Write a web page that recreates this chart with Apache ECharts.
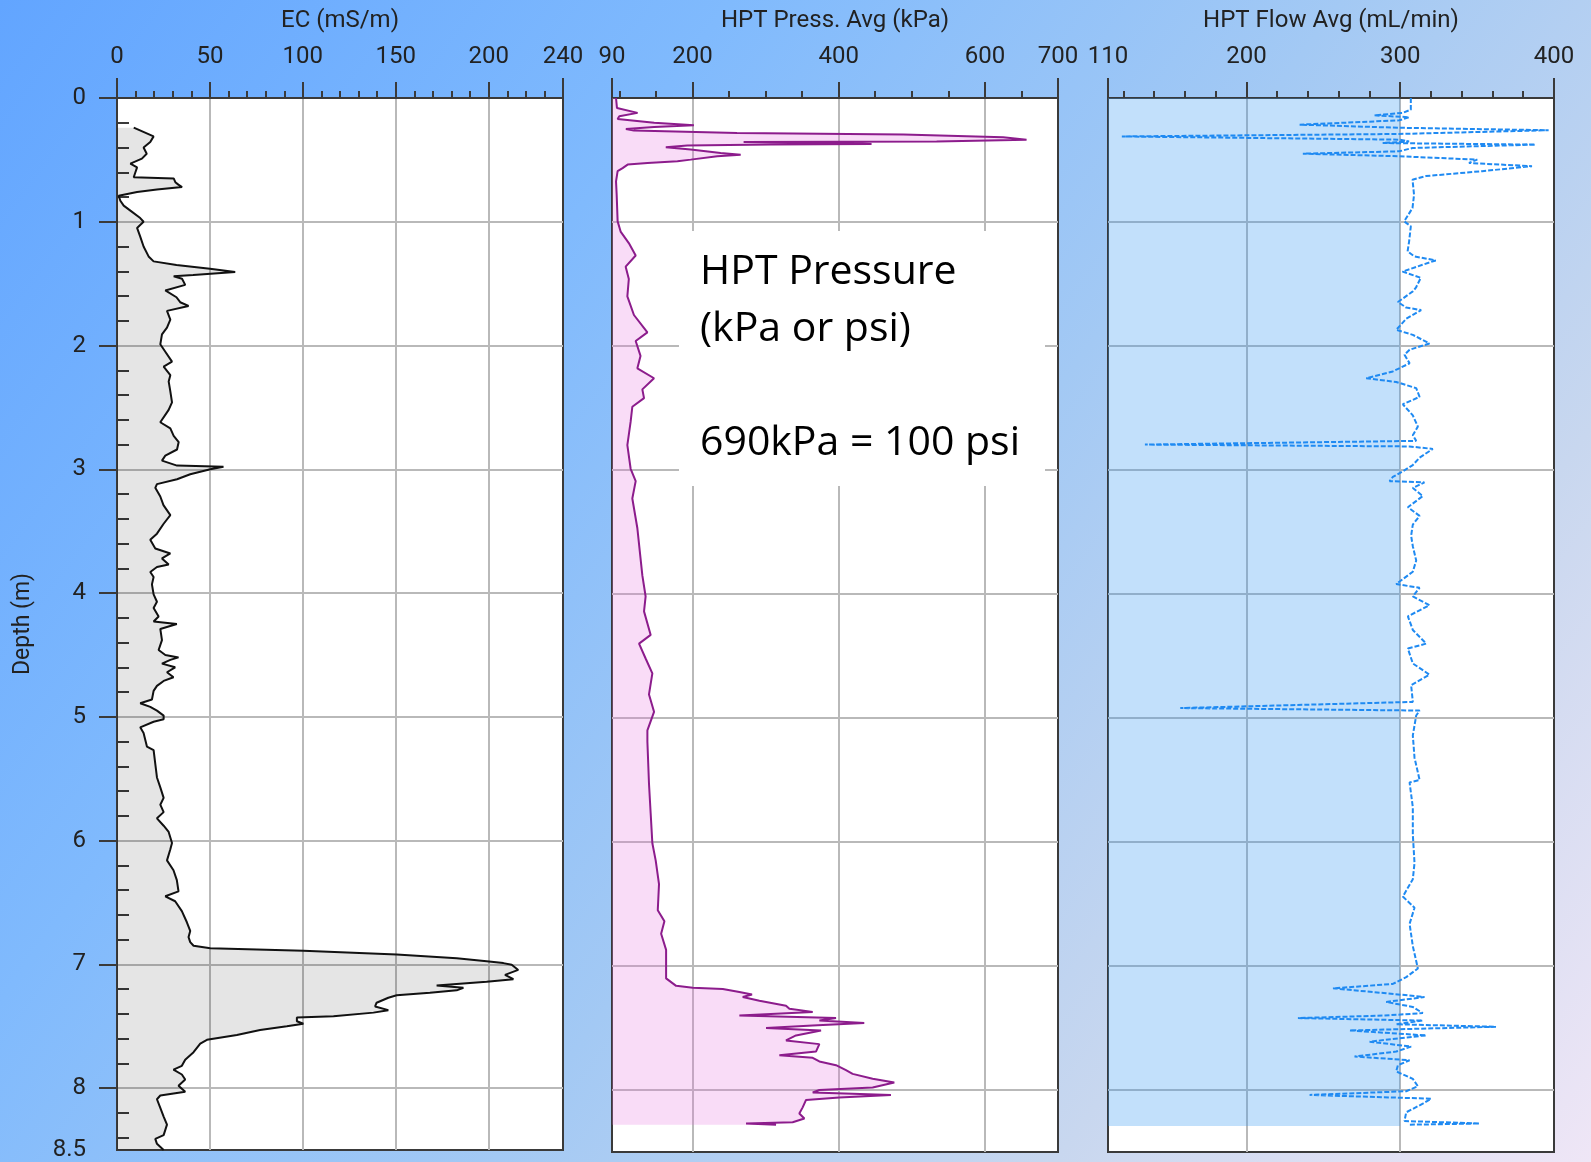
<!DOCTYPE html>
<html>
<head>
<meta charset="utf-8">
<title>EC and HPT log</title>
<script src="https://cdn.jsdelivr.net/npm/echarts@6/dist/echarts.min.js"></script>
<style>
  html, body { margin: 0; padding: 0; }
  #chart { width: 1591px; height: 1162px; }
</style>
</head>
<body>
<div id="chart"></div>
<script>
// depth axis (m), shared by the three tracks
var depthLabels = [0, 1, 2, 3, 4, 5, 6, 7, 8, 8.5];
var depthMajorTicks = [0, 1, 2, 3, 4, 5, 6, 7, 8];
var depthMinorTicks = [0.2, 0.4, 0.6, 0.8, 1.2, 1.4, 1.6, 1.8, 2.2, 2.4, 2.6, 2.8,
  3.2, 3.4, 3.6, 3.8, 4.2, 4.4, 4.6, 4.8, 5.2, 5.4, 5.6, 5.8, 6.2, 6.4, 6.6, 6.8,
  7.2, 7.4, 7.6, 7.8, 8.2, 8.4];

// EC (mS/m)
var ecLabels = [0, 50, 100, 150, 200, 240];
var ecMajorTicks = [50, 100, 150, 200];
var ecMinorTicks = [10, 20, 30, 40, 60, 70, 80, 90, 110, 120, 130, 140, 160, 170, 180, 190, 210, 220, 230];
var ecDepth = [0.24, 0.31, 0.355, 0.40, 0.45, 0.49, 0.53, 0.56, 0.60, 0.64, 0.65, 0.68, 0.70, 0.72, 0.74, 0.76,
  0.79, 0.83, 0.87, 0.91, 0.97, 1.00, 1.05, 1.12, 1.20, 1.28, 1.32, 1.35, 1.38, 1.405, 1.43, 1.44, 1.46, 1.51,
  1.555, 1.61, 1.65, 1.68, 1.72, 1.79, 1.855, 1.91, 1.99, 2.05, 2.13, 2.17, 2.24, 2.29, 2.37, 2.46, 2.52, 2.62,
  2.67, 2.73, 2.78, 2.84, 2.89, 2.93, 2.97, 2.98, 3.00, 3.04, 3.08, 3.12, 3.15, 3.22, 3.29, 3.37, 3.44, 3.52,
  3.57, 3.64, 3.68, 3.72, 3.77, 3.79, 3.83, 3.87, 3.93, 4.01, 4.07, 4.12, 4.19, 4.23, 4.25, 4.29, 4.38, 4.46,
  4.50, 4.52, 4.54, 4.57, 4.60, 4.64, 4.68, 4.71, 4.75, 4.79, 4.86, 4.89, 4.92, 4.95, 4.99, 5.02, 5.04, 5.085,
  5.13, 5.24, 5.27, 5.38, 5.49, 5.57, 5.655, 5.71, 5.77, 5.82, 5.88, 5.93, 6.02, 6.07, 6.16, 6.24, 6.32, 6.41,
  6.45, 6.49, 6.57, 6.66, 6.73, 6.78, 6.82, 6.85, 6.87, 6.89, 6.92, 6.95, 6.975, 6.99, 7.003, 7.045, 7.085,
  7.12, 7.14, 7.17, 7.19, 7.21, 7.23, 7.25, 7.27, 7.31, 7.34, 7.37, 7.39, 7.42, 7.43, 7.46, 7.48, 7.50, 7.53,
  7.57, 7.61, 7.64, 7.71, 7.77, 7.82, 7.85, 7.89, 7.93, 7.98, 8.03, 8.06, 8.09, 8.16, 8.23, 8.295, 8.38, 8.41,
  8.45, 8.50];
var ecValue = [9, 19.7, 17.9, 14.3, 16, 13.4, 7.2, 10.8, 9.9, 9, 30.5, 31.4, 33, 35, 21.5, 10.8,
  0.9, 1.8, 3.6, 7.2, 12.5, 14.3, 10.8, 12.5, 14.3, 17, 19.7, 32, 50, 63.6, 41, 30.5, 35, 36.7,
  26, 32, 34, 38.5, 26.9, 28.7, 26.9, 24.2, 23.3, 26, 29.6, 25.1, 28.7, 27.8, 28.7, 29.6, 27.8, 23.3,
  28.7, 30.5, 33.2, 32.3, 26, 24.2, 32.3, 57.3, 50.2, 39.4, 32.3, 21.5, 20.6, 23.3, 25, 28.7, 25.1, 21.5,
  17.9, 20.6, 28.7, 24.2, 27.8, 21.5, 17.9, 19.7, 18.8, 19.7, 21.5, 19.7, 22.4, 19.7, 32.2, 23.3, 24.2, 22.4,
  26, 33.1, 28.7, 24.2, 31.3, 26.9, 30.4, 25.1, 21.5, 19.7, 18.8, 12.5, 17.9, 21.5, 25.1, 25.1, 19.7, 12.5,
  14.3, 16.1, 19.7, 20.6, 21.5, 23.3, 25.1, 23.3, 25.1, 21.5, 25.1, 27.8, 29.6, 28.7, 26.9, 30.4, 32.2, 33.1,
  26, 31.3, 34.9, 37.6, 39.4, 38.5, 39.4, 41.2, 50.2, 100.3, 150.5, 182.8, 198.9, 207.9, 212.4, 215.9, 208.8,
  213.3, 198.9, 172, 186.4, 182.8, 168.4, 150.5, 146, 139.7, 138.9, 146, 138, 116.5, 96.8, 96.8, 100.3, 91.4, 77,
  64.5, 48.4, 44.8, 41.2, 36.7, 34.9, 30.4, 34.9, 36.7, 33.1, 36.7, 23.3, 21.5, 23.3, 25.1, 26.9, 25.1, 20.6,
  21.5, 25.1];

// HPT pressure (kPa)
var pressLabels = [90, 200, 400, 600, 700];
var pressMajorTicks = [200, 400, 600];
var pressMinorTicks = [100, 150, 250, 300, 350, 450, 500, 550, 650];
var pressDepth = [0, 0.08, 0.12, 0.147, 0.17, 0.20, 0.22, 0.234, 0.25, 0.263, 0.282, 0.295, 0.317, 0.336, 0.35,
  0.355, 0.363, 0.37, 0.376, 0.384, 0.397, 0.416, 0.443, 0.457, 0.47, 0.497, 0.51, 0.524, 0.537, 0.565, 0.59,
  0.672, 0.78, 0.995, 1.077, 1.17, 1.27, 1.36, 1.46, 1.60, 1.75, 1.89, 1.96, 2.08, 2.18, 2.26, 2.35, 2.42, 2.49,
  2.61, 2.80, 2.99, 3.09, 3.23, 3.47, 3.71, 3.85, 4.02, 4.14, 4.33, 4.40, 4.52, 4.64, 4.81, 4.95, 5.10, 5.19,
  5.53, 5.77, 6.01, 6.15, 6.34, 6.55, 6.64, 6.74, 6.87, 7.01, 7.10, 7.16, 7.175, 7.185, 7.21, 7.23, 7.25, 7.28,
  7.32, 7.345, 7.37, 7.40, 7.42, 7.44, 7.46, 7.48, 7.50, 7.52, 7.56, 7.60, 7.63, 7.66, 7.69, 7.72, 7.74, 7.77,
  7.80, 7.84, 7.87, 7.91, 7.94, 7.98, 8.00, 8.02, 8.03, 8.04, 8.06, 8.08, 8.14, 8.19, 8.23, 8.26, 8.27, 8.28];
var pressValue = [95.5, 96.8, 125, 100, 97.7, 147.7, 202, 147.7, 109, 120, 261, 488.6, 625, 657, 534,
  270, 397.7, 445, 307, 193, 163.6, 197.7, 238.6, 266, 234, 197.7, 179.5, 138.6, 111.4, 104.5, 97.7,
  95.5, 96.4, 97.7, 101.8, 113, 122.4, 108.7, 113, 111, 120, 138.4, 122.4, 129, 124.7, 147.5, 131.5, 133.8, 117.8,
  115.5, 111, 115.5, 122.4, 117.8, 124.7, 129, 131.5, 136, 133.8, 142.9, 127, 136, 145.2, 140.6, 147.5, 138.4, 138.4,
  140.6, 142.9, 145.2, 149.8, 154.3, 152.6, 161.7, 157.2, 164, 164, 164, 177.7, 200.5, 241.5, 264.2, 281.5, 268.8, 291.6,
  328, 332.6, 364.5, 264.2, 396.4, 373.6, 435, 364.5, 300.7, 375.9, 341.7, 328, 373.6, 371.3, 369, 318.9, 364.5, 373.6,
  396.4, 410, 419.1, 446.5, 476.1, 446.5, 373.6, 364.5, 419.1, 471.5, 400.9, 355.4, 350.8, 346.2, 353.1, 337.1, 273.3, 314.4];

// HPT flow (mL/min)
var flowLabels = [110, 200, 300, 400];
var flowMajorTicks = [200, 300];
var flowMinorTicks = [120, 140, 160, 180, 220, 240, 260, 280, 320, 340, 360, 380];
var flowDepth = [0, 0.094, 0.12, 0.14, 0.155, 0.18, 0.215, 0.24, 0.26, 0.29, 0.31, 0.336, 0.35, 0.363, 0.376,
  0.403, 0.43, 0.449, 0.47, 0.497, 0.524, 0.55, 0.59, 0.63, 0.659, 0.78, 0.887, 0.995, 1.008, 1.035, 1.156,
  1.237, 1.277, 1.31, 1.345, 1.40, 1.45, 1.53, 1.56, 1.645, 1.69, 1.71, 1.78, 1.87, 1.91, 1.98, 2.03, 2.07,
  2.14, 2.205, 2.26, 2.29, 2.34, 2.41, 2.47, 2.56, 2.65, 2.72, 2.765, 2.795, 2.81, 2.83, 2.90, 2.96, 3.01,
  3.056, 3.09, 3.10, 3.145, 3.21, 3.30, 3.37, 3.44, 3.53, 3.615, 3.73, 3.82, 3.92, 3.95, 4.02, 4.09, 4.18,
  4.29, 4.40, 4.44, 4.56, 4.65, 4.735, 4.87, 4.92, 4.94, 4.98, 5.14, 5.32, 5.50, 5.52, 5.72, 5.94, 6.17, 6.30,
  6.44, 6.53, 6.66, 6.84, 7.02, 7.09, 7.145, 7.18, 7.22, 7.25, 7.29, 7.33, 7.38, 7.40, 7.42, 7.44, 7.47, 7.49,
  7.52, 7.56, 7.61, 7.65, 7.69, 7.73, 7.76, 7.80, 7.85, 7.91, 7.97, 8.01, 8.04, 8.07, 8.11, 8.18, 8.25, 8.27, 8.28];
var flowValue = [306.9, 306.9, 301.5, 283.2, 305.8, 299.4, 234.6, 299.4, 396.5, 299.4, 119, 299.4, 305.8, 288.6, 387.9,
  308, 299.4, 236.7, 299.4, 350.1, 344.7, 385.7, 353.3, 316.6, 308, 309, 308, 302.6, 301.5, 306.9, 305.8,
  304.8, 309.1, 323.1, 314.5, 301.5, 313.4, 310.2, 308.2, 298.5, 303.9, 313.6, 303.9, 297.4, 308.2, 319, 306.1, 302.8,
  306.1, 295.2, 277.9, 297.4, 310.4, 312.6, 301.7, 308.2, 311.5, 308.2, 310.4, 134, 306, 321.2, 312.6, 308.2, 301.7,
  295.2, 293.1, 315.8, 308.2, 314.7, 305, 312.6, 308.2, 307.1, 308.2, 310.4, 308.2, 297.4, 312.6, 308.2, 319, 305,
  308.2, 316.9, 305, 308.2, 319, 307.1, 308.2, 157, 312.6, 310.4, 308.2, 309.3, 312.6, 306.1, 308.2, 308.2, 309.3, 308.2,
  301.7, 309.3, 306.1, 308.2, 311.5, 303.9, 295.2, 256.3, 290.9, 315.8, 290.9, 308.2, 314.7, 288.7, 233.5, 314.7, 297.4, 362.3,
  267.1, 316.9, 280.1, 307.1, 297.4, 270.3, 306.1, 298.5, 297.4, 308.2, 311.5, 303.9, 241.1, 320.1, 314.7, 303.9, 302.8, 351.5, 306];

// shaded band behind the flow trace: up to 300 mL/min, down to end of log
var flowBand = [[300, 0], [300, 8.29]];

function zip(values, depths) {
  return values.map(function (v, i) { return [v, depths[i]]; });
}

var axisFont = 'Roboto, "Liberation Sans", sans-serif';
var frame = '#3a3a3a';

function topAxes(grid, min, max, labels, majors, minors, title) {
  var base = { gridIndex: grid, type: 'value', position: 'top', min: min, max: max };
  return [
    Object.assign({}, base, {
      name: title, nameLocation: 'middle', nameGap: 65,
      nameTextStyle: { fontFamily: axisFont, fontSize: 24, color: '#222' },
      axisLine: { show: true, lineStyle: { color: frame, width: 2 } },
      axisTick: { show: true, customValues: majors, length: 16, lineStyle: { color: frame, width: 2 } },
      axisLabel: { show: true, customValues: labels, margin: 29, fontFamily: axisFont, fontSize: 24, color: '#222' },
      splitLine: { show: true, lineStyle: { color: '#b9b9b9', width: 2 } }
    }),
    Object.assign({}, base, {
      axisLine: { show: false },
      axisTick: { show: true, customValues: minors, length: 7, lineStyle: { color: frame, width: 2 } },
      axisLabel: { show: false }, splitLine: { show: false }
    }),
    Object.assign({}, base, {
      axisLine: { show: false },
      axisTick: { show: true, customValues: [min, max], length: 20, lineStyle: { color: frame, width: 2 } },
      axisLabel: { show: false }, splitLine: { show: false }
    })
  ];
}

function depthAxis(grid, extra) {
  return Object.assign({
    gridIndex: grid, type: 'value', inverse: true, min: 0, max: 8.5, interval: 1,
    axisLine: { show: false }, axisTick: { show: false, customValues: depthMajorTicks },
    axisLabel: { show: false },
    splitLine: { show: true, lineStyle: { color: '#b9b9b9', width: 2 } }
  }, extra);
}

// polygon between a trace and a vertical base line, mapped through the axes
function fillSeries(xIdx, yIdx, pts, baseX, color) {
  return {
    type: 'custom', xAxisIndex: xIdx, yAxisIndex: yIdx, silent: true, z: 1,
    data: [[baseX, pts[0][1]]],
    renderItem: function (params, api) {
      var poly = [api.coord([baseX, pts[0][1]])];
      pts.forEach(function (p) { poly.push(api.coord(p)); });
      poly.push(api.coord([baseX, pts[pts.length - 1][1]]));
      return { type: 'polygon', shape: { points: poly }, style: { fill: color } };
    }
  };
}

function traceSeries(xIdx, yIdx, pts, color, width, dash) {
  return {
    type: 'line', xAxisIndex: xIdx, yAxisIndex: yIdx, data: pts, z: 3,
    showSymbol: false, symbol: 'none', silent: true,
    lineStyle: { color: color, width: width, type: dash || 'solid' }
  };
}

var ecPts = zip(ecValue, ecDepth);
var pressPts = zip(pressValue, pressDepth);
var flowPts = zip(flowValue, flowDepth);

var chart = echarts.init(document.getElementById('chart'));

var gridBox = { show: true, top: 98, height: 1054, width: 446, backgroundColor: '#fff',
  borderColor: frame, borderWidth: 2 };

var option = {
  animation: false,
  backgroundColor: {
    type: 'linear', x: 0, y: 0, x2: 1, y2: 1,
    colorStops: [
      { offset: 0, color: '#62a5ff' },
      { offset: 0.3, color: '#80bafd' },
      { offset: 0.55, color: '#a3c9f4' },
      { offset: 0.78, color: '#c8d7ef' },
      { offset: 1, color: '#efe6f6' }
    ]
  },
  grid: [
    Object.assign({ left: 117 }, gridBox),
    Object.assign({ left: 612 }, gridBox),
    Object.assign({ left: 1108 }, gridBox)
  ],
  xAxis: []
    .concat(topAxes(0, 0, 240, ecLabels, ecMajorTicks, ecMinorTicks, 'EC (mS/m)'))
    .concat(topAxes(1, 90, 700, pressLabels, pressMajorTicks, pressMinorTicks, 'HPT Press. Avg (kPa)'))
    .concat(topAxes(2, 110, 400, flowLabels, flowMajorTicks, flowMinorTicks, 'HPT Flow Avg (mL/min)')),
  yAxis: [
    depthAxis(0, {
      name: 'Depth (m)', nameLocation: 'middle', nameGap: 82,
      nameTextStyle: { fontFamily: axisFont, fontSize: 23, color: '#222' },
      axisLine: { show: true, lineStyle: { color: frame, width: 2 } },
      axisTick: { show: true, customValues: depthMajorTicks, length: 18, lineStyle: { color: frame, width: 2 } },
      axisLabel: { show: true, customValues: depthLabels, margin: 31, fontFamily: axisFont, fontSize: 24, color: '#222' }
    }),
    depthAxis(0, {
      axisTick: { show: true, customValues: depthMinorTicks, length: 12, lineStyle: { color: frame, width: 2 } },
      splitLine: { show: false }
    }),
    depthAxis(1),
    depthAxis(2)
  ],
  series: [
    fillSeries(0, 0, ecPts, 0, 'rgba(0,0,0,0.1)'),
    traceSeries(0, 0, ecPts, '#111', 2),
    fillSeries(3, 2, pressPts, 90, 'rgba(231,115,223,0.25)'),
    traceSeries(3, 2, pressPts, '#8c1c8c', 2),
    fillSeries(6, 3, flowBand, 110, 'rgba(52,152,242,0.3)'),
    traceSeries(6, 3, flowPts, '#1f8af2', 2, [5, 2])
  ],
  graphic: [
    { type: 'rect', z: 100, shape: { x: 679, y: 231, width: 366, height: 255 }, style: { fill: '#fff' } },
    { type: 'text', z: 101, left: 700, top: 244,
      style: { text: 'HPT Pressure\n(kPa or psi)\n\n690kPa = 100 psi', fill: '#000',
        font: '41px "Open Sans", "Noto Sans", sans-serif', lineHeight: 57 } }
  ]
};

chart.setOption(option);
</script>
</body>
</html>
